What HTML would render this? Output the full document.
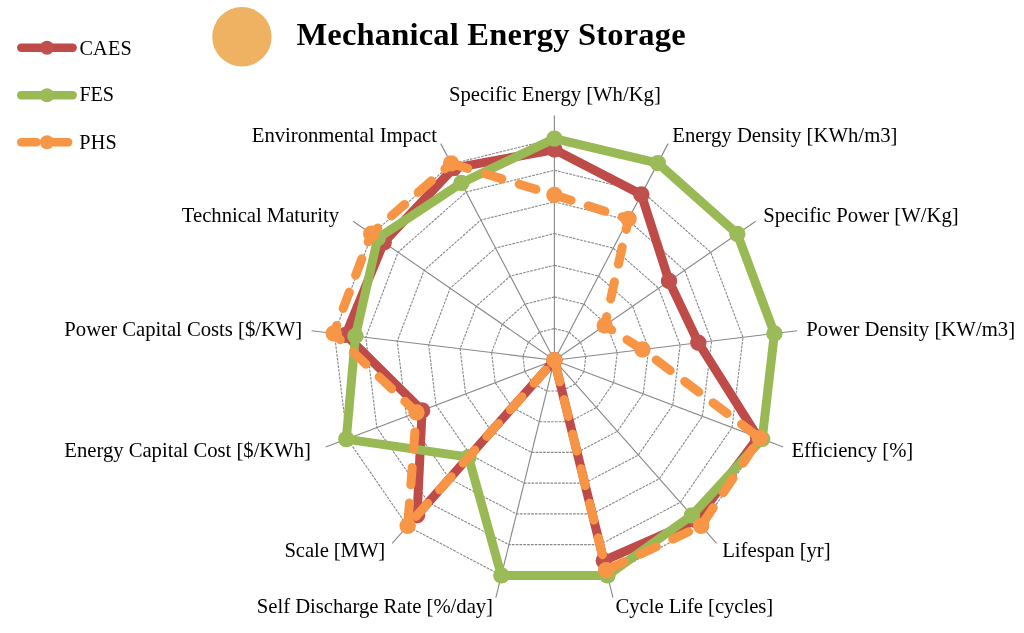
<!DOCTYPE html>
<html><head><meta charset="utf-8"><title>Mechanical Energy Storage</title>
<style>
html,body{margin:0;padding:0;background:#fff;}
body{width:1024px;height:633px;overflow:hidden;font-family:"Liberation Serif",serif;}
svg{display:block;will-change:transform;}
</style></head><body>
<svg width="1024" height="633" viewBox="0 0 1024 633">
<rect width="1024" height="633" fill="#fff"/>
<g fill="none" stroke="#888888" stroke-width="1.1" stroke-dasharray="2.7 1.1">
<polygon points="554.40,328.54 569.11,332.17 580.46,342.22 585.83,356.38 584.00,371.43 575.39,383.90 561.98,390.94 546.82,390.94 533.41,383.90 524.80,371.43 522.97,356.38 528.34,342.22 539.69,332.17"/>
<polygon points="554.40,296.88 583.83,304.13 606.51,324.23 617.26,352.57 613.61,382.65 596.39,407.60 569.55,421.68 539.25,421.68 512.41,407.60 495.19,382.65 491.54,352.57 502.29,324.23 524.97,304.13"/>
<polygon points="554.40,265.22 598.54,276.10 632.57,306.25 648.69,348.75 643.21,393.88 617.38,431.29 577.13,452.42 531.67,452.42 491.42,431.29 465.59,393.88 460.11,348.75 476.23,306.25 510.26,276.10"/>
<polygon points="554.40,233.56 613.25,248.07 658.62,288.26 680.12,344.94 672.81,405.11 638.38,454.99 584.71,483.16 524.09,483.16 470.42,454.99 435.99,405.11 428.68,344.94 450.18,288.26 495.55,248.07"/>
<polygon points="554.40,201.90 627.97,220.03 684.68,270.28 711.55,341.12 702.41,416.33 659.37,478.69 592.28,513.90 516.52,513.90 449.43,478.69 406.39,416.33 397.25,341.12 424.12,270.28 480.83,220.03"/>
<polygon points="554.40,170.24 642.68,192.00 710.73,252.29 742.97,337.30 732.02,427.56 680.37,502.39 599.86,544.64 508.94,544.64 428.43,502.39 376.78,427.56 365.83,337.30 398.07,252.29 466.12,192.00"/>
<polygon points="554.40,138.58 657.39,163.97 736.79,234.31 774.40,333.49 761.62,438.79 701.36,526.08 607.44,575.38 501.36,575.38 407.44,526.08 347.18,438.79 334.40,333.49 372.01,234.31 451.41,163.97"/>
</g>
<g stroke="#888888" stroke-width="1.12">
<line x1="554.4" y1="360.2" x2="554.40" y2="115.60"/>
<line x1="554.4" y1="360.2" x2="668.07" y2="143.62"/>
<line x1="554.4" y1="360.2" x2="755.70" y2="221.25"/>
<line x1="554.4" y1="360.2" x2="797.22" y2="330.72"/>
<line x1="554.4" y1="360.2" x2="783.10" y2="446.94"/>
<line x1="554.4" y1="360.2" x2="716.60" y2="543.29"/>
<line x1="554.4" y1="360.2" x2="612.94" y2="597.69"/>
<line x1="554.4" y1="360.2" x2="495.86" y2="597.69"/>
<line x1="554.4" y1="360.2" x2="392.20" y2="543.29"/>
<line x1="554.4" y1="360.2" x2="325.70" y2="446.94"/>
<line x1="554.4" y1="360.2" x2="311.58" y2="330.72"/>
<line x1="554.4" y1="360.2" x2="353.10" y2="221.25"/>
<line x1="554.4" y1="360.2" x2="440.73" y2="143.62"/>
</g>
<path d="M554.40 149.50 L641.35 194.52 L669.04 281.07 L698.35 342.72 L758.07 437.44 L696.11 520.16 L603.80 560.62 L554.40 360.20 L417.10 515.18 L422.08 410.38 L345.71 334.86 L383.74 242.40 L453.62 168.17 Z" fill="none" stroke="#BE4B48" stroke-width="9" stroke-linejoin="round" stroke-linecap="round"/>
<g fill="#C0504D">
<circle cx="554.40" cy="149.50" r="8.2"/>
<circle cx="641.35" cy="194.52" r="8.2"/>
<circle cx="669.04" cy="281.07" r="8.2"/>
<circle cx="698.35" cy="342.72" r="8.2"/>
<circle cx="758.07" cy="437.44" r="8.2"/>
<circle cx="696.11" cy="520.16" r="8.2"/>
<circle cx="603.80" cy="560.62" r="8.2"/>
<circle cx="554.40" cy="360.20" r="8.2"/>
<circle cx="417.10" cy="515.18" r="8.2"/>
<circle cx="422.08" cy="410.38" r="8.2"/>
<circle cx="345.71" cy="334.86" r="8.2"/>
<circle cx="383.74" cy="242.40" r="8.2"/>
<circle cx="453.62" cy="168.17" r="8.2"/>
</g>
<path d="M554.40 138.58 L657.83 163.12 L737.31 233.95 L774.40 333.49 L762.21 439.01 L691.91 515.42 L607.44 575.38 L501.36 575.38 L468.53 457.12 L346.29 439.12 L355.45 336.04 L377.74 238.26 L461.41 183.03 Z" fill="none" stroke="#98B954" stroke-width="9" stroke-linejoin="round" stroke-linecap="round"/>
<g fill="#9BBB59">
<circle cx="554.40" cy="138.58" r="8.2"/>
<circle cx="657.83" cy="163.12" r="8.2"/>
<circle cx="737.31" cy="233.95" r="8.2"/>
<circle cx="774.40" cy="333.49" r="8.2"/>
<circle cx="762.21" cy="439.01" r="8.2"/>
<circle cx="691.91" cy="515.42" r="8.2"/>
<circle cx="607.44" cy="575.38" r="8.2"/>
<circle cx="501.36" cy="575.38" r="8.2"/>
<circle cx="468.53" cy="457.12" r="8.2"/>
<circle cx="346.29" cy="439.12" r="8.2"/>
<circle cx="355.45" cy="336.04" r="8.2"/>
<circle cx="377.74" cy="238.26" r="8.2"/>
<circle cx="461.41" cy="183.03" r="8.2"/>
</g>
<path d="M554.40 194.93 L628.55 218.91 L604.69 325.49 L642.40 349.51 L759.84 438.11 L701.15 525.85 L606.15 570.15 L554.40 360.20 L407.65 525.85 L416.45 412.52 L333.77 333.41 L371.23 233.77 L451.11 163.40 M451.11 163.40 L554.40 194.93" fill="none" stroke="#F79545" stroke-width="9" stroke-linejoin="round" stroke-linecap="round" stroke-dasharray="17.5 18.1"/>
<g fill="#F79646">
<circle cx="554.40" cy="194.93" r="8.2"/>
<circle cx="628.55" cy="218.91" r="8.2"/>
<circle cx="604.69" cy="325.49" r="8.2"/>
<circle cx="642.40" cy="349.51" r="8.2"/>
<circle cx="759.84" cy="438.11" r="8.2"/>
<circle cx="701.15" cy="525.85" r="8.2"/>
<circle cx="606.15" cy="570.15" r="8.2"/>
<circle cx="554.40" cy="360.20" r="8.2"/>
<circle cx="407.65" cy="525.85" r="8.2"/>
<circle cx="416.45" cy="412.52" r="8.2"/>
<circle cx="333.77" cy="333.41" r="8.2"/>
<circle cx="371.23" cy="233.77" r="8.2"/>
<circle cx="451.11" cy="163.40" r="8.2"/>
</g>
<line x1="21.2" y1="47.7" x2="72.7" y2="47.7" stroke="#BE4B48" stroke-width="8.4" stroke-linecap="round"/>
<circle cx="47" cy="47.7" r="7" fill="#C0504D"/>
<line x1="21.2" y1="95.2" x2="72.7" y2="95.2" stroke="#98B954" stroke-width="8.4" stroke-linecap="round"/>
<circle cx="47" cy="95.2" r="7" fill="#9BBB59"/>
<line x1="21.2" y1="142.2" x2="36.6" y2="142.2" stroke="#F79545" stroke-width="8.4" stroke-linecap="round"/>
<line x1="54" y1="142.2" x2="68.2" y2="142.2" stroke="#F79545" stroke-width="8.4" stroke-linecap="round"/>
<circle cx="47" cy="142.2" r="7" fill="#F79646"/>
<circle cx="241.9" cy="36.8" r="29.7" fill="#EFB263"/>
<g font-family="'Liberation Serif', serif" font-size="20.7" fill="#000">
<text id="l0" x="554.9" y="100.75" text-anchor="middle" textLength="211.78">Specific Energy [Wh/Kg]</text>
<text id="l1" x="672.25" y="142" text-anchor="start" textLength="225.24">Energy Density [KWh/m3]</text>
<text id="l2" x="763.25" y="222" text-anchor="start" textLength="195.40">Specific Power [W/Kg]</text>
<text id="l3" x="806.25" y="336" text-anchor="start" textLength="208.83">Power Density [KW/m3]</text>
<text id="l4" x="791.5" y="457" text-anchor="start" textLength="121.76">Efficiency [%]</text>
<text id="l5" x="722.25" y="557" text-anchor="start" textLength="108.38">Lifespan [yr]</text>
<text id="l6" x="615.5" y="613" text-anchor="start" textLength="157.71">Cycle Life [cycles]</text>
<text id="l7" x="493" y="613" text-anchor="end" textLength="236.19">Self Discharge Rate [%/day]</text>
<text id="l8" x="385.25" y="557" text-anchor="end" textLength="100.84">Scale [MW]</text>
<text id="l9" x="311" y="457" text-anchor="end" textLength="246.71">Energy Capital Cost [$/KWh]</text>
<text id="l10" x="302.25" y="336" text-anchor="end" textLength="237.92">Power Capital Costs [$/KW]</text>
<text id="l11" x="339" y="222" text-anchor="end" textLength="157.13">Technical Maturity</text>
<text id="l12" x="437" y="142" text-anchor="end" textLength="185.24">Environmental Impact</text>
<text id="lg0" x="79.4" y="54.6" font-size="20.2" textLength="52.3">CAES</text>
<text id="lg1" x="79.4" y="101.3" font-size="20.2" textLength="34.7">FES</text>
<text id="lg2" x="79.2" y="148.8" font-size="20.2" textLength="37.5">PHS</text>
</g>
<text id="title" x="296.4" y="45.3" font-family="'Liberation Serif', serif" font-weight="bold" font-size="32.5" letter-spacing="0.2" fill="#000">Mechanical Energy Storage</text>
</svg>
</body></html>
